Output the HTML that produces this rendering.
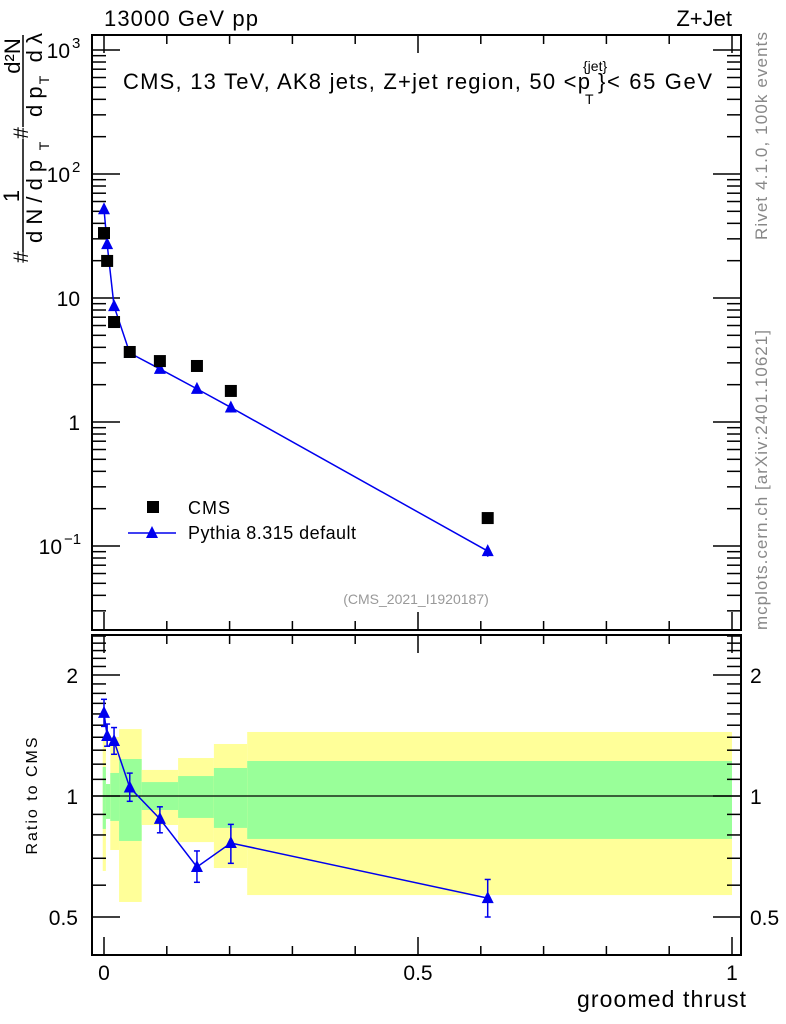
<!DOCTYPE html>
<html><head><meta charset="utf-8"><style>
body{margin:0;background:#fff;}
svg{display:block;font-family:"Liberation Sans",sans-serif;}
</style></head><body>
<svg id="c" width="786" height="1024" viewBox="0 0 786 1024"></svg>
<script>
const xs = [0.0, 0.005, 0.016, 0.041, 0.089, 0.148, 0.202, 0.611];
const cmsVals = [33.4, 19.9, 6.4, 3.67, 3.1, 2.83, 1.78, 0.168];
const pyVals = [52, 27.2, 8.6, 3.6, 2.68, 1.85, 1.31, 0.091];
const pyErrMain = [0.05, 0.05, 0.05, 0.05, 0.06, 0.08, 0.09, 0.10];
const ratioVals = [1.61, 1.41, 1.37, 1.05, 0.877, 0.666, 0.764, 0.557];
const ratioLo = [1.49, 1.33, 1.27, 0.97, 0.81, 0.61, 0.68, 0.50];
const ratioHi = [1.74, 1.51, 1.48, 1.14, 0.94, 0.73, 0.85, 0.62];
const binEdges = [-0.002, 0.003, 0.01, 0.024, 0.06, 0.118, 0.175, 0.228, 1.0];
const yelHi = [1.378, 1.0, 1.402, 1.467, 1.161, 1.243, 1.347, 1.443];
const yelLo = [0.651, 1.0, 0.734, 0.545, 0.847, 0.768, 0.662, 0.567];
const grnHi = [1.181, 1.071, 1.141, 1.236, 1.083, 1.121, 1.174, 1.222];
const grnLo = [0.828, 0.877, 0.867, 0.773, 0.923, 0.882, 0.833, 0.782];
const xTicks = [0, 0.5, 1];
const xTickLabels = ["0", "0.5", "1"];
const ratioTicks = [0.5, 1, 2];

const NS = "http://www.w3.org/2000/svg";
const svg = document.getElementById('c');
function mk(tag, attrs, parent) {
  const e = document.createElementNS(NS, tag);
  for (const k in attrs) e.setAttribute(k, attrs[k]);
  (parent || svg).appendChild(e);
  return e;
}
const L = 92, R = 741, T1 = 35, B1 = 630, T2 = 635, B2 = 955;
const X = v => 104 + v * 628;
const Y1 = v => 422 - Math.log10(v) * 124;
const Y2 = v => 796 - Math.log10(v) * 402;

const bands = mk('g', {});


for (let i = 0; i < yelHi.length; i++) {
  const x0 = X(binEdges[i]), x1 = X(binEdges[i + 1]);
  if (yelHi[i] > yelLo[i]) {
    const r = mk('rect', {x: x0, y: Y2(yelHi[i]), width: x1 - x0, height: Y2(yelLo[i]) - Y2(yelHi[i]), fill: '#ffff99'}, bands);
    
    
  }
  const g = mk('rect', {x: x0, y: Y2(grnHi[i]), width: x1 - x0, height: Y2(grnLo[i]) - Y2(grnHi[i]), fill: '#99ff99'}, bands);
  
  
}
mk('line', {x1: L, x2: R, y1: Y2(1), y2: Y2(1), stroke: '#000', 'stroke-width': 1.3});

for (const [t, b, nm] of [[T1, B1, 'main-frame'], [T2, B2, 'ratio-frame']]) {
  const f = mk('rect', {x: L, y: t, width: R - L, height: b - t, fill: 'none', stroke: '#000', 'stroke-width': 2});
  
  
}
for (const [t, b] of [[T1, B1], [T2, B2]]) {
  for (let v = 0; v <= 1.001; v += 0.1) {
    const major = Math.abs(v * 2 - Math.round(v * 2)) < 1e-6;
    const len = major ? 18 : 9;
    mk('line', {x1: X(v), x2: X(v), y1: b, y2: b - len, stroke: '#000', 'stroke-width': 1.5});
    mk('line', {x1: X(v), x2: X(v), y1: t, y2: t + len, stroke: '#000', 'stroke-width': 1.5});
  }
}
xTicks.forEach((v, i) => {
  const t = mk('text', {x: X(v), y: 980, 'font-size': 21, 'text-anchor': 'middle'});
  t.textContent = xTickLabels[i];
  
  
});
for (let d = -2; d <= 3; d++) {
  for (let m = 1; m <= 9; m++) {
    const v = m * Math.pow(10, d), y = Y1(v);
    if (y < T1 || y > B1) continue;
    const len = m === 1 ? 28 : 14;
    mk('line', {x1: L, x2: L + len, y1: y, y2: y, stroke: '#000', 'stroke-width': 1.5});
    mk('line', {x1: R, x2: R - len, y1: y, y2: y, stroke: '#000', 'stroke-width': 1.5});
  }
}
const yl = [[1000, '10', '3'], [100, '10', '2'], [10, '10', ''], [1, '1', ''], [0.1, '10', '−1']];
for (const [v, b, e] of yl) {
  const t = mk('text', {x: e ? 78 - e.length * 8 : 80, y: Y1(v) + 8, 'font-size': 21, 'text-anchor': 'end'});
  t.textContent = b;
  
  
  if (e) { const s = mk('text', {x: 80 - e.length * 8, y: Y1(v) - 2, 'font-size': 15}); s.textContent = e; }
}
for (let v = 0.4; v <= 2.6; v += 0.1) {
  const y = Y2(v); if (y < T2 || y > B2) continue;
  const major = ratioTicks.some(r => Math.abs(r - v) < 1e-6);
  const len = major ? 28 : 14;
  mk('line', {x1: L, x2: L + len, y1: y, y2: y, stroke: '#000', 'stroke-width': 1.5});
  mk('line', {x1: R, x2: R - len, y1: y, y2: y, stroke: '#000', 'stroke-width': 1.5});
}
ratioTicks.forEach(v => {
  const a = mk('text', {x: 78, y: Y2(v) + 8, 'font-size': 21, 'text-anchor': 'end'}); a.textContent = String(v);
   
  const b = mk('text', {x: 750, y: Y2(v) + 8, 'font-size': 21}); b.textContent = String(v);
   
});

const pl = mk('polyline', {points: xs.map((x, i) => X(x) + ',' + Y1(pyVals[i])).join(' '), fill: 'none', stroke: '#0000ee', 'stroke-width': 1.5});


function tri(cx, cy, parent) {
  return mk('polygon', {points: `${cx},${cy - 7} ${cx - 6},${cy + 5} ${cx + 6},${cy + 5}`, fill: '#0000ee'}, parent);
}
xs.forEach((x, i) => {
  const e = pyErrMain[i];
  const y1 = Y1(pyVals[i] * (1 + e)), y2 = Y1(pyVals[i] * (1 - e));
  mk('line', {x1: X(x), x2: X(x), y1: y1, y2: y2, stroke: '#0000ee', 'stroke-width': 1.5});
  const t = tri(X(x), Y1(pyVals[i]));
  
  
});
xs.forEach((x, i) => {
  const s = mk('rect', {x: X(x) - 6, y: Y1(cmsVals[i]) - 6, width: 12, height: 12, fill: '#000'});
  
  
});

const rl = mk('polyline', {points: xs.map((x, i) => X(x) + ',' + Y2(ratioVals[i])).join(' '), fill: 'none', stroke: '#0000ee', 'stroke-width': 1.5});


xs.forEach((x, i) => {
  const cx = X(x);
  mk('line', {x1: cx, x2: cx, y1: Y2(ratioHi[i]), y2: Y2(ratioLo[i]), stroke: '#0000ee', 'stroke-width': 1.5});
  mk('line', {x1: cx - 3, x2: cx + 3, y1: Y2(ratioHi[i]), y2: Y2(ratioHi[i]), stroke: '#0000ee', 'stroke-width': 1.5});
  mk('line', {x1: cx - 3, x2: cx + 3, y1: Y2(ratioLo[i]), y2: Y2(ratioLo[i]), stroke: '#0000ee', 'stroke-width': 1.5});
  const t = tri(cx, Y2(ratioVals[i]));
  
  
});

const lg = mk('g', {});


mk('rect', {x: 147, y: 501, width: 12, height: 12, fill: '#000'}, lg);
const l1 = mk('text', {x: 188, y: 514, 'font-size': 18, textLength: 42}, lg); l1.textContent = 'CMS';
mk('line', {x1: 128, x2: 176, y1: 533, y2: 533, stroke: '#0000ee', 'stroke-width': 1.5}, lg);
tri(152, 533, lg);
const l2 = mk('text', {x: 188, y: 539, 'font-size': 18, textLength: 168}, lg); l2.textContent = 'Pythia 8.315 default';

function txt(s, attrs, name) { const t = mk('text', attrs); t.textContent = s;   return t; }
txt('13000 GeV pp', {x: 104, y: 26, 'font-size': 22, textLength: 154}, 'energy-label');
txt('Z+Jet', {x: 732, y: 26, 'font-size': 22, 'text-anchor': 'end'}, 'process-label');
txt('CMS, 13 TeV, AK8 jets, Z+jet region, 50 <p', {x: 123, y: 89, 'font-size': 22, textLength: 467}, 'plot-title');
txt('{jet}', {x: 583, y: 71, 'font-size': 14}, 'title-sup');
txt('T', {x: 585, y: 104, 'font-size': 14}, 'title-sub');
txt('}< 65 GeV', {x: 598, y: 89, 'font-size': 22, textLength: 114}, 'title-end');
txt('(CMS_2021_I1920187)', {x: 416, y: 604, 'font-size': 14, fill: '#999', 'text-anchor': 'middle'}, 'analysis-id');
txt('groomed thrust', {x: 577, y: 1007, 'font-size': 23, textLength: 169}, 'x-axis-title');
txt('Ratio to CMS', {x: 0, y: 0, 'font-size': 16, 'text-anchor': 'middle', textLength: 117, transform: 'translate(37,796) rotate(-90)'}, 'ratio-axis-title');
txt('Rivet 4.1.0,  100k events', {x: 0, y: 0, 'font-size': 17, fill: '#888', textLength: 208, transform: 'translate(767,240) rotate(-90)'}, 'rivet-label');
txt('mcplots.cern.ch [arXiv:2401.10621]', {x: 0, y: 0, 'font-size': 17, fill: '#888', textLength: 300, transform: 'translate(767,630) rotate(-90)'}, 'mcplots-label');

const yt = mk('g', {});


function rt(s, x, y, fs, anchor) { const t = mk('text', {x: 0, y: 0, 'font-size': fs, 'text-anchor': anchor || 'middle', transform: `translate(${x},${y}) rotate(-90)`}, yt); t.textContent = s; return t; }
mk('line', {x1: 23, x2: 23, y1: 127, y2: 35, stroke: '#000', 'stroke-width': 1.5}, yt);
mk('line', {x1: 23, x2: 23, y1: 252, y2: 139, stroke: '#000', 'stroke-width': 1.5}, yt);
rt('#', 28, 257, 21);
rt('#', 28, 133, 21);
rt('1', 19, 196, 22);
rt('d²N', 20, 56, 22);
rt('d N / d p', 42, 243, 22, 'start');
rt('T', 49, 146, 14);
rt('d p', 42, 117, 22, 'start');
rt('T', 49, 80, 14);
rt('d λ', 42, 33, 22, 'end');
</script>
</body></html>
